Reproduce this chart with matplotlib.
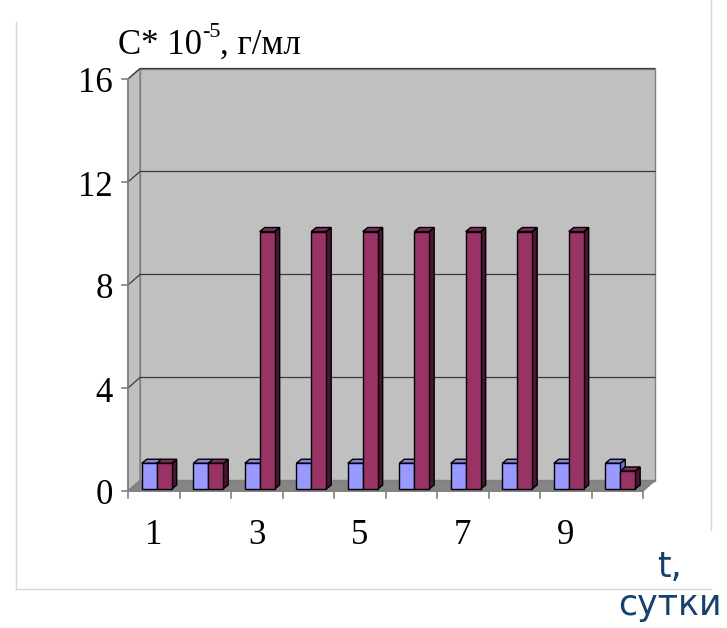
import matplotlib
matplotlib.use("Agg")
import matplotlib.pyplot as plt
from matplotlib.patches import Polygon
from matplotlib.lines import Line2D

# Data: concentration by day
days = [1, 2, 3, 4, 5, 6, 7, 8, 9, 10]
series_a = [1, 1, 1, 1, 1, 1, 1, 1, 1, 1]
series_b = [1, 1, 10, 10, 10, 10, 10, 10, 10, 0.7]
y_ticks = [0, 4, 8, 12, 16]
x_labels = ["1", "", "3", "", "5", "", "7", "", "9", ""]

W, H, DPI = 727, 628, 100
fig = plt.figure(figsize=(W / DPI, H / DPI), dpi=DPI)
fig.patch.set_facecolor("white")

# Front plane of the 3D box
left_px, right_px, y0_px, ytop_px = 128, 643, 491, 79
ax = fig.add_axes([left_px / W, (H - y0_px) / H,
                   (right_px - left_px) / W, (y0_px - ytop_px) / H])
ax.set_xlim(0.5, 10.5)
ax.set_ylim(0, 16)
ax.axis("off")

# pixel -> data conversions
ux = (right_px - left_px) / 10.0
uy = (y0_px - ytop_px) / 16.0
def dxp(p):
    return p / ux
def dyp(p):
    return p / uy

wdx, wdy = dxp(12), dyp(10.5)     # wall depth
fx, fy = dxp(3), dyp(2)            # bar front offset
bdx, bdy = dxp(5), dyp(4)          # bar depth
bw = 0.29

x0, x1, ymax = 0.5, 10.5, 16
wall_col = "#c0c0c0"
floor_col = "#858585"
edge_gray = "#808080"

def poly(pts, fc, ec, lw, z):
    p = Polygon(pts, closed=True, facecolor=fc, edgecolor=ec, linewidth=lw,
                zorder=z, clip_on=False, joinstyle="miter")
    ax.add_patch(p)

# back wall
poly([(x0 + wdx, wdy), (x1 + wdx, wdy), (x1 + wdx, ymax + wdy), (x0 + wdx, ymax + wdy)],
     wall_col, edge_gray, 1.0, 1)
# side wall
poly([(x0, 0), (x0 + wdx, wdy), (x0 + wdx, ymax + wdy), (x0, ymax)],
     wall_col, edge_gray, 1.0, 1)
# floor
poly([(x0, 0), (x1, 0), (x1 + wdx, wdy), (x0 + wdx, wdy)],
     floor_col, edge_gray, 1.0, 2)

# gridlines on the walls
for v in y_ticks[1:]:
    ax.add_line(Line2D([x0, x0 + wdx, x1 + wdx], [v, v + wdy, v + wdy],
                       color="#3a3a3a", lw=0.9, zorder=3, clip_on=False))

# axis lines and ticks
ax.add_line(Line2D([x0, x0], [0, ymax], color=edge_gray, lw=1.2, zorder=4, clip_on=False))
ax.add_line(Line2D([x0, x1], [0, 0], color=edge_gray, lw=1.2, zorder=4, clip_on=False))
for v in y_ticks:
    ax.add_line(Line2D([x0 - dxp(6), x0], [v, v], color=edge_gray, lw=1.2, zorder=4,
                       clip_on=False))
    ax.text(x0 - dxp(15), v - dyp(5), str(v), ha="right", va="center",
            fontsize=25, family="Liberation Serif", color="black")
for k in range(len(days) + 1):
    xb = x0 + k
    ax.add_line(Line2D([xb, xb], [0, -dyp(7)], color=edge_gray, lw=1.2, zorder=4,
                       clip_on=False))
for d, lab in zip(days, x_labels):
    if lab:
        ax.text(d, -dyp(45), lab, ha="center", va="center",
                fontsize=25, family="Liberation Serif", color="black")

# 3D bars
def bar3d(xa, xb, h, front, top, side, z):
    xa, xb = xa + fx, xb + fx
    b, t = fy, fy + h
    poly([(xb, b), (xb + bdx, b + bdy), (xb + bdx, t + bdy), (xb, t)], side, "black", 1.0, z)
    poly([(xa, t), (xb, t), (xb + bdx, t + bdy), (xa + bdx, t + bdy)], top, "black", 1.0, z)
    poly([(xa, b), (xb, b), (xb, t), (xa, t)], front, "black", 1.0, z)

z = 10
for d, a, b in zip(days, series_a, series_b):
    bar3d(d - bw, d, a, "#9999ff", "#8585e6", "#7373c4", z)
    z += 1
    bar3d(d, d + bw, b, "#993366", "#85295a", "#4a1530", z)
    z += 1

# vertical axis title with superscript
renderer = fig.canvas.get_renderer()
tx, ty = 118, 54
t1 = fig.text(tx / W, 1 - ty / H, "C* 10", fontsize=25, family="Liberation Serif",
              ha="left", va="baseline")
e1 = t1.get_window_extent(renderer)
t2 = fig.text(e1.x1 / W, 1 - (ty - 17) / H, "-5", fontsize=16,
              family="Liberation Serif", ha="left", va="baseline")
e2 = t2.get_window_extent(renderer)
fig.text(e2.x1 / W, 1 - ty / H, ", г/мл", fontsize=25, family="Liberation Serif",
         ha="left", va="baseline")

# horizontal axis title
fig.text(670 / W, 1 - 586 / H, "t,\nсутки", fontsize=25, family="DejaVu Sans",
         color="#17406d", ha="center", va="center", multialignment="center",
         linespacing=1.15)

# slide frame lines
frame = "#d6d6d6"
fig.add_artist(Line2D([16 / W, 16 / W], [1 - 22 / H, 1 - 589 / H], color=frame, lw=1,
                      transform=fig.transFigure))
fig.add_artist(Line2D([16 / W, 711 / W], [1 - 589 / H, 1 - 589 / H], color=frame, lw=1,
                      transform=fig.transFigure))
fig.add_artist(Line2D([711 / W, 711 / W], [1.0, 1 - 530 / H], color=frame, lw=1,
                      transform=fig.transFigure))

fig.savefig("out.png", dpi=DPI)
